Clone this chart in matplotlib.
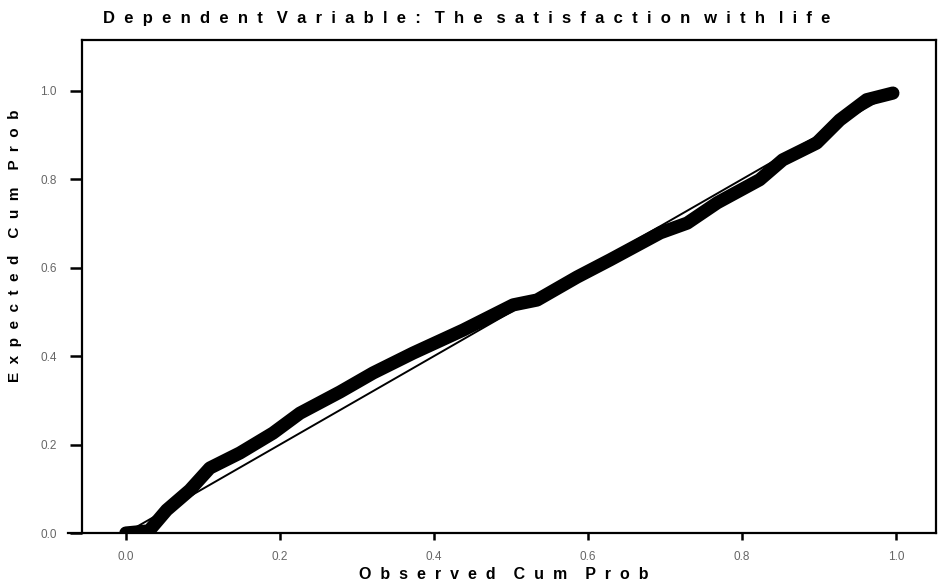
import matplotlib
matplotlib.use("Agg")
import matplotlib.pyplot as plt

# P-P plot (observed vs expected cumulative prob)
obs_cum = [0.0, 0.03, 0.053, 0.083, 0.109, 0.148, 0.191, 0.226, 0.278, 0.321,
           0.373, 0.438, 0.503, 0.534, 0.586, 0.629, 0.694, 0.729, 0.768,
           0.823, 0.853, 0.897, 0.927, 0.962, 0.996]
exp_cum = [0.0, 0.005, 0.052, 0.097, 0.147, 0.181, 0.226, 0.271, 0.319, 0.362,
           0.407, 0.459, 0.516, 0.527, 0.579, 0.618, 0.679, 0.701, 0.747,
           0.799, 0.844, 0.882, 0.934, 0.980, 0.995]
ref_line = [0.0, 1.0]
ticks = [0.0, 0.2, 0.4, 0.6, 0.8, 1.0]
tick_labels = ["0.0", "0.2", "0.4", "0.6", "0.8", "1.0"]

title = "Dependent Variable: The satisfaction with life"
xlab = "Observed Cum Prob"
ylab = "Expected Cum Prob"

def spaced(s, gap="    "):
    # SPSS-style wide letter spacing
    return gap.join("  ".join(w) for w in s.split(" "))

plt.rcParams['font.family'] = ['Liberation Sans', 'DejaVu Sans']

fig = plt.figure(figsize=(9.39, 5.86), dpi=100)
ax = fig.add_axes([0.0873, 0.0904, 0.9095, 0.8413])

ax.plot(ref_line, ref_line, color="black", lw=1.4)
ax.plot(obs_cum, exp_cum, color="black", lw=9.5, solid_capstyle="round",
        solid_joinstyle="round")

ax.set_xlim(-0.057, 1.052)
ax.set_ylim(0, 1.115)
ax.set_xticks(ticks)
ax.set_xticklabels(tick_labels)
ax.set_yticks(ticks)
ax.set_yticklabels(tick_labels)
for sp in ax.spines.values():
    sp.set_linewidth(1.6)
ax.spines['bottom'].set_bounds(-0.075, 1.052)
ax.tick_params(axis="x", length=5, width=1.8, colors="black", labelcolor="#666666",
               labelsize=8.5, pad=8)
ax.tick_params(axis="y", length=9, width=1.8, colors="black", labelcolor="#666666",
               labelsize=8.5, pad=9)

fig.text(0.497, 0.969, spaced(title, "   "), ha="center", va="center",
         fontsize=12, fontweight="bold")
fig.text(0.536, 0.019, spaced(xlab), ha="center", va="center",
         fontsize=11.5, fontweight="bold")
fig.text(0.016, 0.58, spaced(ylab), ha="center", va="center",
         fontsize=11, fontweight="bold", rotation=90)

fig.savefig("out.png", dpi=100)
